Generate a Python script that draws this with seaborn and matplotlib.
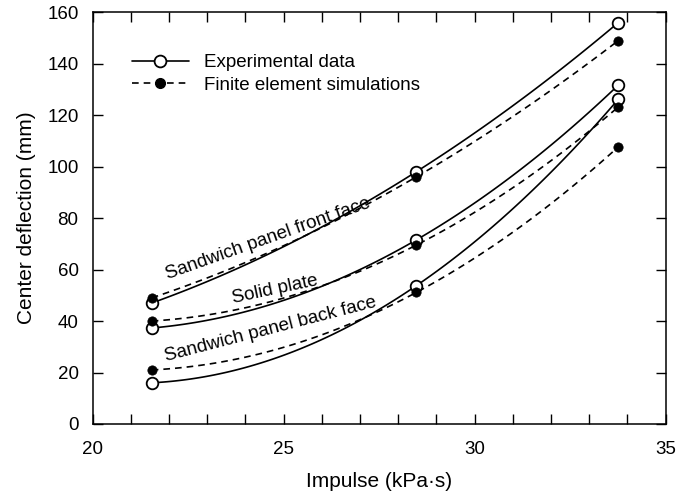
import matplotlib
matplotlib.use("Agg")
import matplotlib.pyplot as plt
import numpy as np
import seaborn as sns
from matplotlib.legend_handler import HandlerLine2D
from matplotlib.lines import Line2D
from matplotlib.ticker import MultipleLocator

# impulse levels (kPa.s)
impulse = [21.55, 28.47, 33.76]

# center deflection (mm), experiments
exp_front = [47.0, 98.0, 156.0]
exp_solid = [37.3, 71.5, 131.7]
exp_back = [16.0, 53.7, 126.2]

# center deflection (mm), finite element simulations
fe_front = [49.0, 96.0, 149.0]
fe_solid = [40.0, 69.5, 123.2]
fe_back = [21.0, 51.1, 107.7]

case_names = ["Sandwich panel front face", "Solid plate", "Sandwich panel back face"]
legend_labels = ["Experimental data", "Finite element simulations"]

# where the case names sit (data coords, baseline start) and their tilt
name_x = [21.97, 23.68, 21.92]
name_y = [56.4, 46.8, 24.4]
name_angle = [19.5, 12, 14.5]

DASH = (0, (4, 3))


def smooth(x, y):
    # quadratic through the three measured points, for drawing only
    coef = np.polyfit(x, y, 2)
    xs = np.linspace(x[0], x[-1], 120)
    return xs, np.polyval(coef, xs)


class MarkerNearEnd(HandlerLine2D):
    # legend key: full line with the marker placed toward its right end
    def get_xdata(self, legend, xdescent, ydescent, width, height, fontsize):
        xdata = np.array([-xdescent, -xdescent + width])
        return xdata, np.array([-xdescent + 0.82 * width])


sns.set_style("ticks")
plt.rcParams["font.family"] = ["Liberation Sans", "DejaVu Sans"]
plt.rcParams.update({"text.color": "black", "axes.labelcolor": "black",
                     "xtick.color": "black", "ytick.color": "black"})

fig = plt.figure(figsize=(6.94, 4.93), dpi=100)
ax = fig.add_axes([0.1333, 0.140, 0.8259, 0.8351])

for ys in [exp_front, exp_solid, exp_back]:
    xs, yc = smooth(impulse, ys)
    sns.lineplot(x=xs, y=yc, color="black", lw=1.2, ax=ax, sort=False)
for ys in [fe_front, fe_solid, fe_back]:
    xs, yc = smooth(impulse, ys)
    sns.lineplot(x=xs, y=yc, color="black", lw=1.2, linestyle=DASH, ax=ax, sort=False)

for ys in [exp_front, exp_solid, exp_back]:
    sns.scatterplot(x=impulse, y=ys, marker="o", s=70, facecolor="white",
                    edgecolor="black", linewidth=1.3, ax=ax, zorder=3)
for ys in [fe_front, fe_solid, fe_back]:
    sns.scatterplot(x=impulse, y=ys, marker="o", s=45, color="black",
                    edgecolor="black", linewidth=0.5, ax=ax, zorder=4)

for name, tx, ty, ang in zip(case_names, name_x, name_y, name_angle):
    ax.text(tx, ty, name, rotation=ang, rotation_mode="anchor",
            ha="left", va="baseline", fontsize=13.5, color="black")

handles = [
    Line2D([], [], color="black", lw=1.2, marker="o", ms=8.5, mfc="white",
           mec="black", mew=1.3),
    Line2D([], [], color="black", lw=1.2, linestyle=DASH, marker="o", ms=7,
           mfc="black", mec="black"),
]
ax.legend(handles, legend_labels, loc="upper left", bbox_to_anchor=(0.052, 0.921),
          frameon=False, handlelength=3.04, handletextpad=0.8,
          labelspacing=0.3, borderpad=0, fontsize=13.5,
          handler_map={Line2D: MarkerNearEnd()})

ax.set_xlim(20, 35)
ax.set_ylim(0, 160)
ax.xaxis.set_major_locator(MultipleLocator(5))
ax.xaxis.set_minor_locator(MultipleLocator(1))
ax.yaxis.set_major_locator(MultipleLocator(20))
ax.tick_params(which="both", direction="in", top=True, right=True,
               length=7, width=1, color="black")
ax.tick_params(axis="both", labelsize=13.5)
ax.tick_params(axis="y", pad=10)
ax.tick_params(axis="x", pad=12)
for sp in ax.spines.values():
    sp.set_linewidth(1.1)
    sp.set_color("black")

ax.set_xlabel("Impulse (kPa·s)", fontsize=15, labelpad=10)
ax.set_ylabel("Center deflection (mm)", fontsize=15, labelpad=8)

fig.savefig("out.png", dpi=100, facecolor="white")
